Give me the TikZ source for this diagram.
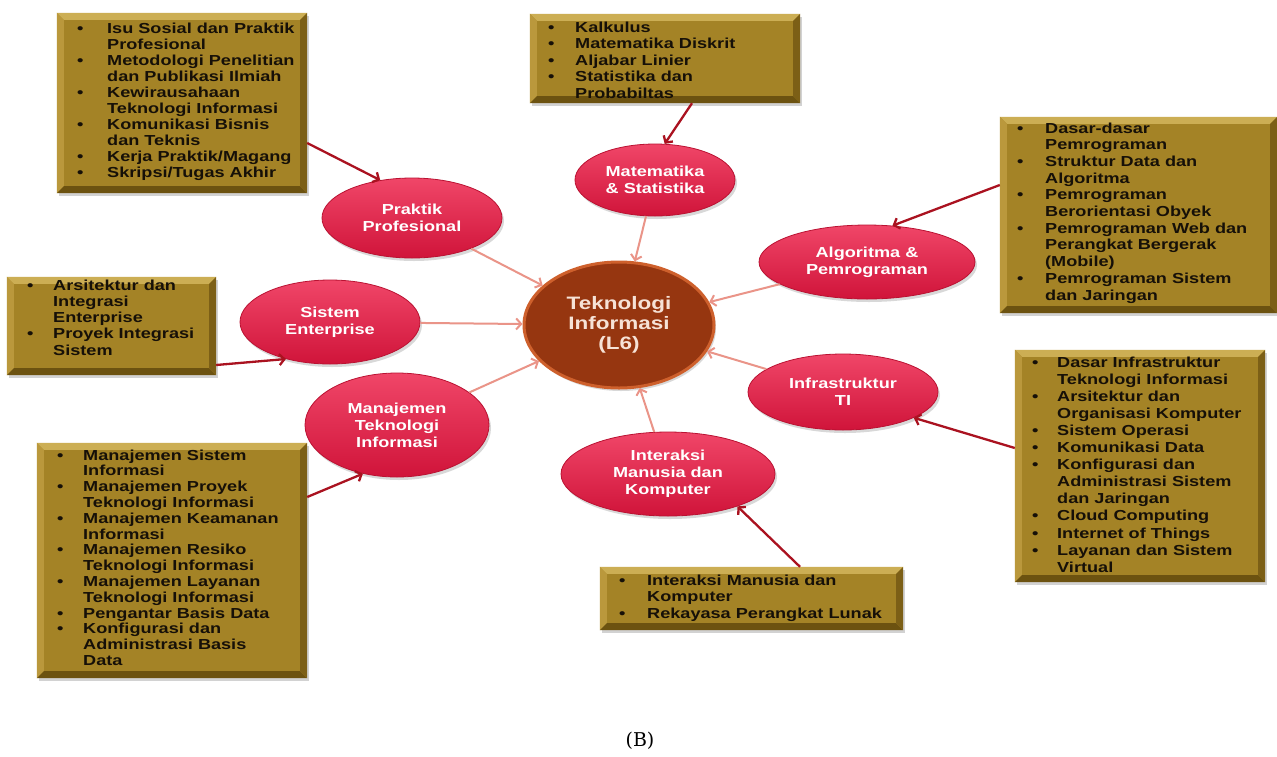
\documentclass[tikz,border=0pt]{standalone}
\usepackage{fontspec}
\usetikzlibrary{shapes.geometric,shadows,arrows.meta,calc}
\newfontfamily\wideb{Liberation Sans}[FakeStretch=1.25]
\newfontfamily\capfont{DejaVu Serif}

\definecolor{goldmid}{RGB}{164,131,38}
\definecolor{bevtop}{RGB}{204,174,84}
\definecolor{bevleft}{RGB}{186,152,60}
\definecolor{bevright}{RGB}{124,95,22}
\definecolor{bevbot}{RGB}{108,82,16}
\definecolor{boxink}{RGB}{22,16,8}
\definecolor{topicTop}{RGB}{240,70,104}
\definecolor{topicBot}{RGB}{208,20,58}
\definecolor{topicRim}{RGB}{186,18,50}
\definecolor{coreFill}{RGB}{150,54,16}
\definecolor{coreRim}{RGB}{206,96,44}
\definecolor{coreInk}{RGB}{246,226,214}
\definecolor{feedRed}{RGB}{170,18,32}
\definecolor{linkPink}{RGB}{234,148,136}

% bullet list set as a two-column table: bullet column of width #1
\newcommand\blist[2]{\begin{tabular}[t]{@{}p{#1}@{}l@{}}#2\end{tabular}}
\newcommand\bu{\textbullet}

% bevelled frame drawn over a box node
\newcommand\goldbevel[1]{%
  \fill[bevtop] (#1.north west) -- (#1.north east) -- ($(#1.north east)+(-7,7)$) -- ($(#1.north west)+(7,7)$) -- cycle;
  \fill[bevleft] (#1.north west) -- ($(#1.north west)+(7,7)$) -- ($(#1.south west)+(7,-7)$) -- (#1.south west) -- cycle;
  \fill[bevbot] (#1.south west) -- ($(#1.south west)+(7,-7)$) -- ($(#1.south east)+(-7,-7)$) -- (#1.south east) -- cycle;
  \fill[bevright] (#1.north east) -- ($(#1.north east)+(-7,7)$) -- ($(#1.south east)+(-7,-7)$) -- (#1.south east) -- cycle;
}

\begin{document}
\begin{tikzpicture}[x=1pt,y=-1pt,
  boxbase/.style={rectangle, fill=goldmid, inner sep=0pt,
    drop shadow={shadow xshift=2pt, shadow yshift=-3pt, opacity=0.35}},
  boxtext/.style={anchor=base west, inner sep=0pt, text=boxink,
    font=\wideb\bfseries\fontsize{14.5}{#1}\selectfont},
  boxtext/.default=16.3,
  topic/.style={ellipse, inner sep=0pt, top color=topicTop, bottom color=topicBot,
    draw=topicRim, line width=0.8pt, text=white, align=center,
    font=\wideb\bfseries\fontsize{14.5}{17}\selectfont,
    drop shadow={shadow xshift=2pt, shadow yshift=-3pt, opacity=0.3}},
  core/.style={ellipse, inner sep=0pt, fill=coreFill, draw=coreRim, line width=3pt,
    text=coreInk, align=center, font=\wideb\bfseries\fontsize{18}{20}\selectfont,
    drop shadow={shadow xshift=2pt, shadow yshift=-3pt, opacity=0.3}},
  feed/.style={draw=feedRed, line width=2.3pt, -{Straight Barb[length=5pt,width=11pt]}},
  link/.style={draw=linkPink, line width=2pt, -{Straight Barb[length=5pt,width=11pt]}}]

\useasboundingbox (0,0) rectangle (1277,756);
\fill[white] (0,0) rectangle (1277,756);

% ---- course boxes ----
\node[boxbase, minimum width=250pt, minimum height=180pt] (b1) at (182,103) {};
\goldbevel{b1}
\node[boxtext=16.1] (t1) at (77,33) {\blist{30pt}{%
  \bu & Isu Sosial dan Praktik\\ & Profesional\\
  \bu & Metodologi Penelitian\\ & dan Publikasi Ilmiah\\
  \bu & Kewirausahaan\\ & Teknologi Informasi\\
  \bu & Komunikasi Bisnis\\ & dan Teknis\\
  \bu & Kerja Praktik/Magang\\
  \bu & Skripsi/Tugas Akhir}};

\node[boxbase, minimum width=270pt, minimum height=89pt] (b2) at (665,58.5) {};
\goldbevel{b2}
\node[boxtext=16.5] (t2) at (548,32) {\blist{27pt}{%
  \bu & Kalkulus\\
  \bu & Matematika Diskrit\\
  \bu & Aljabar Linier\\
  \bu & Statistika dan\\ & Probabiltas}};

\node[boxbase, minimum width=277pt, minimum height=196pt] (b3) at (1138.5,215) {};
\goldbevel{b3}
\node[boxtext=16.7] (t3) at (1017,133) {\blist{28pt}{%
  \bu & Dasar-dasar\\ & Pemrograman\\
  \bu & Struktur Data dan\\ & Algoritma\\
  \bu & Pemrograman\\ & Berorientasi Obyek\\
  \bu & Pemrograman Web dan\\ & Perangkat Bergerak\\ & (Mobile)\\
  \bu & Pemrograman Sistem\\ & dan Jaringan}};

\node[boxbase, minimum width=209pt, minimum height=98pt] (b4) at (111.5,326) {};
\goldbevel{b4}
\node[boxtext=16.3] (t4) at (27,290) {\blist{26pt}{%
  \bu & Arsitektur dan\\ & Integrasi\\ & Enterprise\\
  \bu & Proyek Integrasi\\ & Sistem}};

\node[boxbase, minimum width=270pt, minimum height=235pt] (b5) at (172,560.5) {};
\goldbevel{b5}
\node[boxtext=15.8] (t5) at (57,460) {\blist{26pt}{%
  \bu & Manajemen Sistem\\ & Informasi\\
  \bu & Manajemen Proyek\\ & Teknologi Informasi\\
  \bu & Manajemen Keamanan\\ & Informasi\\
  \bu & Manajemen Resiko\\ & Teknologi Informasi\\
  \bu & Manajemen Layanan\\ & Teknologi Informasi\\
  \bu & Pengantar Basis Data\\
  \bu & Konfigurasi dan\\ & Administrasi Basis\\ & Data}};

\node[boxbase, minimum width=250pt, minimum height=232pt] (b6) at (1140,466) {};
\goldbevel{b6}
\node[boxtext=17.1] (t6) at (1032,367) {\blist{25pt}{%
  \bu & Dasar Infrastruktur\\ & Teknologi Informasi\\
  \bu & Arsitektur dan\\ & Organisasi Komputer\\
  \bu & Sistem Operasi\\
  \bu & Komunikasi Data\\
  \bu & Konfigurasi dan\\ & Administrasi Sistem\\ & dan Jaringan\\
  \bu & Cloud Computing\\
  \bu & Internet of Things\\
  \bu & Layanan dan Sistem\\ & Virtual}};

\node[boxbase, minimum width=303pt, minimum height=63pt] (b7) at (751.5,598.5) {};
\goldbevel{b7}
\node[boxtext=16.5] (t7) at (619,585) {\blist{28pt}{%
  \bu & Interaksi Manusia dan\\ & Komputer\\
  \bu & Rekayasa Perangkat Lunak}};

% ---- central topic and knowledge areas ----
\node[core, minimum width=190pt, minimum height=126pt] (core) at (619,325)
  {Teknologi\\Informasi\\(L6)};

\node[topic, minimum width=180pt, minimum height=80pt] (p1) at (412,218) {Praktik\\Profesional};
\node[topic, minimum width=160pt, minimum height=72pt] (m1) at (655,180) {Matematika\\\& Statistika};
\node[topic, minimum width=216pt, minimum height=74pt] (a1) at (867,262) {Algoritma \&\\Pemrograman};
\node[topic, minimum width=180pt, minimum height=84pt] (s1) at (330,322) {Sistem\\Enterprise};
\node[topic, minimum width=190pt, minimum height=76pt] (i1) at (843,392) {Infrastruktur\\TI};
\node[topic, minimum width=184pt, minimum height=104pt] (j1) at (397,425) {Manajemen\\Teknologi\\Informasi};
\node[topic, minimum width=214pt, minimum height=84pt] (h1) at (668,474) {Interaksi\\Manusia dan\\Komputer};

% ---- box to area connectors ----
\draw[feed] ($(b1.east)+(0,40)$) -- (p1.130);
\draw[feed] ($(b2.south)+(27,0)$) -- (m1.75);
\draw[feed] ($(b3.west)+(0,-30)$) -- (a1.55);
\draw[feed] ($(b4.east)+(0,39)$) -- (s1.220);
\draw[feed] ($(b5.east)+(0,-63.5)$) -- (j1.235);
\draw[feed] ($(b6.west)+(0,-18)$) -- (i1.-20);
\draw[feed] ($(b7.north)+(48.5,0)$) -- (h1.-25);

% ---- area to core connectors ----
\draw[link] (p1) -- (core);
\draw[link] (m1) -- (core);
\draw[link] (a1) -- (core);
\draw[link] (s1) -- (core);
\draw[link] (i1) -- (core);
\draw[link] (j1) -- (core);
\draw[link] (h1) -- (core);

% ---- caption ----
\node[font=\capfont\fontsize{19}{22}\selectfont] (cap) at (640,741) {(B)};
\end{tikzpicture}
\end{document}
